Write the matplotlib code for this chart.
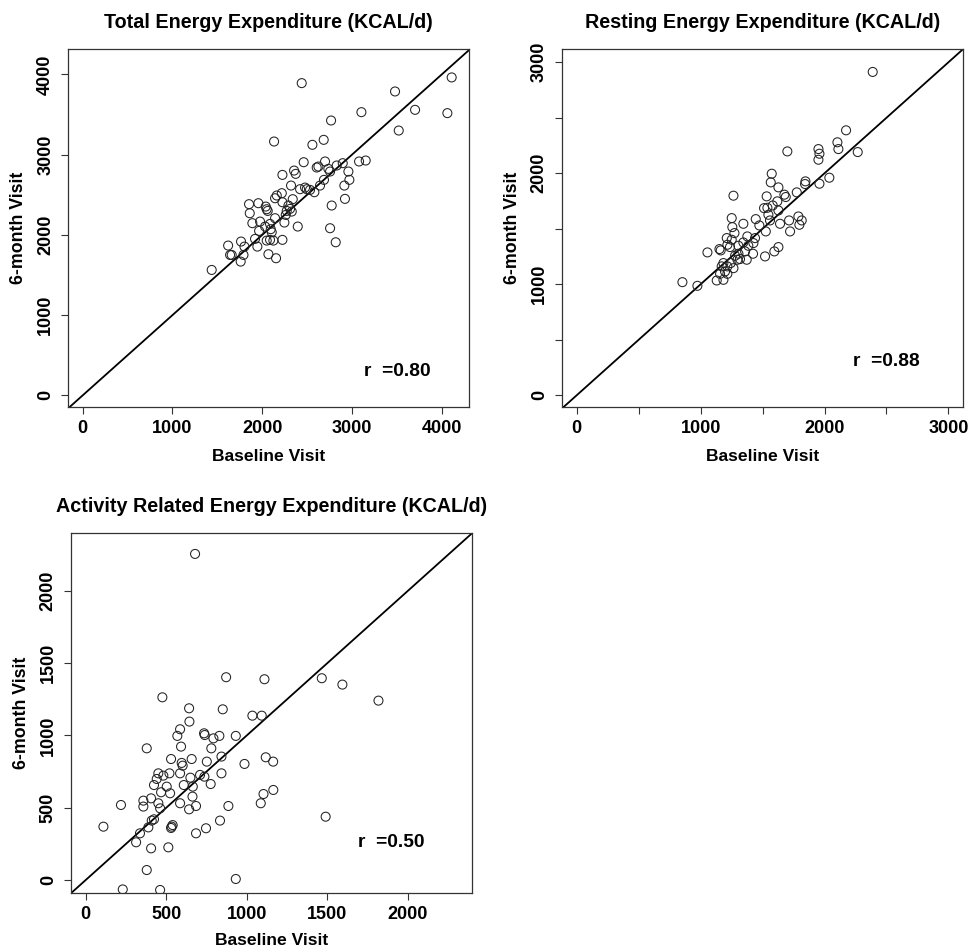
import numpy as np
import matplotlib
matplotlib.use('Agg')
import matplotlib.pyplot as plt

plt.rcParams['font.family'] = ['Liberation Sans', 'DejaVu Sans']
plt.rcParams['font.weight'] = 'bold'

# Total energy expenditure (baseline, 6-month)
tee_base = [2440, 4111, 3480, 3703, 4063, 3105, 2767, 3521, 2132, 2559, 2685, 2462, 2700, 2607,
            2626, 2737, 2756, 2830, 2897, 2960, 3079, 3153, 2355, 2373, 2225, 2688, 2971, 2915,
            2644, 2321, 2422, 2477, 2496, 2581, 2533, 2922, 2774, 2756, 2819, 2218, 2162, 2143,
            2225, 2340, 2292, 2310, 2273, 2329, 2262, 2396, 2247, 2143, 2039, 2050, 2061, 1957,
            1853, 1861, 1890, 1976, 2032, 2087, 2095, 1965, 2106, 1920, 1946, 2050, 2087, 2124,
            2225, 2069, 2154, 1764, 1802, 1791, 1660, 1642, 1620, 1760, 1437]
tee_6m = [3892, 3963, 3788, 3559, 3518, 3530, 3426, 3301, 3164, 3123, 3185, 2906, 2915, 2840,
          2852, 2823, 2790, 2865, 2894, 2790, 2915, 2927, 2802, 2761, 2748, 2686, 2686, 2615,
          2615, 2615, 2570, 2590, 2570, 2532, 2561, 2449, 2366, 2083, 1908, 2520, 2491, 2457,
          2407, 2445, 2366, 2324, 2299, 2291, 2249, 2104, 2154, 2208, 2353, 2320, 2299, 2395,
          2383, 2270, 2146, 2166, 2104, 2137, 2071, 2050, 2033, 1950, 1854, 1929, 1938, 1929,
          1938, 1759, 1709, 1917, 1854, 1750, 1750, 1750, 1867, 1667, 1563]

# Resting energy expenditure
ree_base = [2389, 2174, 2104, 2112, 2268, 1700, 1951, 1959, 1951, 2039, 1846, 1843, 1959, 1776,
            1574, 1566, 1628, 1676, 1687, 1533, 1619, 1582, 1512, 1539, 1628, 1547, 1560, 1641,
            1714, 1722, 1789, 1816, 1797, 1526, 1474, 1445, 1265, 1251, 1256, 1273, 1345, 1377,
            1439, 1426, 1385, 1345, 1211, 1251, 1216, 1237, 1305, 1152, 1162, 1055, 1305, 1359,
            1423, 1520, 1595, 1628, 1278, 1297, 1318, 1184, 1170, 1216, 1265, 1197, 1157, 1216,
            1184, 1130, 853, 974, 1243, 1372]
ree_6m = [2913, 2387, 2279, 2218, 2191, 2197, 2218, 2176, 2122, 1960, 1927, 1903, 1906, 1828,
          1996, 1918, 1873, 1807, 1786, 1792, 1747, 1710, 1686, 1689, 1665, 1626, 1575, 1545,
          1575, 1476, 1611, 1575, 1536, 1476, 1530, 1587, 1798, 1596, 1515, 1461, 1545, 1431,
          1416, 1371, 1347, 1377, 1416, 1401, 1356, 1335, 1347, 1317, 1305, 1287, 1275, 1296,
          1275, 1251, 1296, 1335, 1257, 1221, 1227, 1191, 1161, 1161, 1145, 1115, 1094, 1094,
          1040, 1034, 1019, 986, 1191, 1221]

# Activity related energy expenditure
aee_base = [679, 872, 1110, 1466, 1594, 1818, 476, 642, 851, 644, 1035, 1093, 586, 569, 735, 739,
            793, 830, 932, 379, 592, 780, 530, 658, 843, 752, 986, 1118, 1164, 596, 602, 451, 520,
            586, 482, 650, 710, 737, 843, 441, 424, 503, 609, 665, 776, 468, 524, 663, 1104, 1165,
            219, 358, 358, 406, 451, 462, 586, 642, 685, 886, 1087, 1490, 110, 337, 389, 424, 410,
            534, 540, 530, 685, 747, 834, 313, 406, 513, 379, 230, 462, 932]
aee_6m = [2256, 1403, 1389, 1396, 1352, 1241, 1264, 1188, 1181, 1096, 1137, 1137, 1043, 997, 1015,
          1003, 980, 997, 997, 911, 923, 911, 837, 837, 854, 819, 803, 849, 819, 810, 791, 738,
          738, 738, 722, 708, 727, 715, 738, 699, 657, 646, 657, 646, 664, 607, 600, 577, 595,
          623, 519, 549, 508, 565, 531, 496, 531, 489, 512, 512, 531, 438, 369, 323, 364, 420,
          411, 369, 380, 360, 323, 358, 411, 261, 219, 226, 69, -65, -69, 7]

titles = ['Total Energy Expenditure (KCAL/d)',
          'Resting Energy Expenditure (KCAL/d)',
          'Activity Related Energy Expenditure (KCAL/d)']
r_labels = ['r  =0.80', 'r  =0.88', 'r  =0.50']

fig = plt.figure(figsize=(9.69, 9.47), dpi=100)

panels = [
    # rect, x, y, xlim, ylim, ticks, labelled ticks, r position, xlabel pad
    ([0.0702, 0.5702, 0.4138, 0.3781], tee_base, tee_6m, (-164, 4304), (-146, 4318),
     np.arange(0, 4001, 1000), np.arange(0, 4001, 1000), (3500, 300), 9),
    ([0.5797, 0.5702, 0.4144, 0.3781], ree_base, ree_6m, (-121, 3120), (-106, 3120),
     np.arange(0, 3001, 500), np.arange(0, 3001, 1000), (2500, 300), 9),
    ([0.0730, 0.0567, 0.4138, 0.3802], aee_base, aee_6m, (-93, 2397), (-92, 2399),
     np.arange(0, 2001, 500), np.arange(0, 2001, 500), (1900, 260), 7),
]

for i, (rect, x, y, xl, yl, ticks, lab, rpos, xpad) in enumerate(panels):
    ax = fig.add_axes(rect)
    ax.scatter(x, y, s=42, facecolors='none', edgecolors='#222222', linewidths=0.75, zorder=3)
    ax.axline((0, 0), slope=1, color='black', linewidth=1.3)
    ax.set_xlim(*xl)
    ax.set_ylim(*yl)
    ax.set_xticks(ticks)
    ax.set_yticks(ticks)
    ax.set_xticklabels([str(t) if t in lab else '' for t in ticks])
    ax.set_yticklabels([str(t) if t in lab else '' for t in ticks], rotation=90, va='center')
    ax.tick_params(direction='out', length=5, width=0.8, labelsize=13, color='#333333')
    ax.tick_params(axis='x', pad=4)
    ax.tick_params(axis='y', pad=5)
    for s in ax.spines.values():
        s.set_linewidth(0.9)
        s.set_color('#333333')
    ax.set_title(titles[i], fontsize=14.2, fontweight='bold', pad=15)
    ax.set_xlabel('Baseline Visit', fontsize=12.6, fontweight='bold', labelpad=xpad)
    ax.set_ylabel('6-month Visit', fontsize=12.8, fontweight='bold', labelpad=7)
    ax.text(rpos[0], rpos[1], r_labels[i], fontsize=13.8, fontweight='bold', ha='center', va='center')

plt.savefig('out.png', dpi=100)
